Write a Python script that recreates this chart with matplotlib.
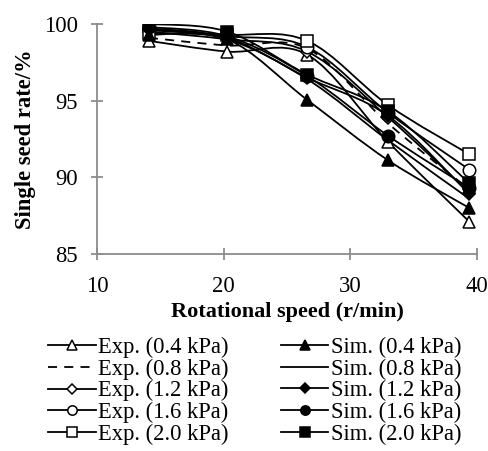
import matplotlib
matplotlib.use("Agg")
import matplotlib.pyplot as plt
from matplotlib.path import Path
from matplotlib.patches import PathPatch
from matplotlib.lines import Line2D
import numpy as np

plt.rcParams['font.family'] = ['Liberation Serif', 'DejaVu Serif']

speed = [14.1, 20.3, 26.6, 33.0, 39.4]
exp_04 = [98.9, 98.2, 98.0, 92.3, 87.1]
exp_08 = [99.1, 98.6, 98.4, 93.5, 89.2]
exp_12 = [99.5, 99.0, 98.2, 93.9, 89.0]
exp_16 = [99.7, 99.2, 98.5, 94.2, 90.5]
exp_20 = [99.4, 99.3, 98.9, 94.7, 91.5]
sim_04 = [99.3, 99.0, 95.05, 91.1, 88.0]
sim_08 = [99.6, 99.0, 96.4, 92.4, 88.6]
sim_12 = [99.7, 99.1, 96.5, 94.0, 88.9]
sim_16 = [99.8, 99.2, 96.6, 92.7, 89.3]
sim_20 = [100.0, 99.5, 96.7, 94.3, 89.6]

labels = ['Exp. (0.4 kPa)', 'Exp. (0.8 kPa)', 'Exp. (1.2 kPa)', 'Exp. (1.6 kPa)', 'Exp. (2.0 kPa)',
          'Sim. (0.4 kPa)', 'Sim. (0.8 kPa)', 'Sim. (1.2 kPa)', 'Sim. (1.6 kPa)', 'Sim. (2.0 kPa)']
series = [exp_04, exp_08, exp_12, exp_16, exp_20, sim_04, sim_08, sim_12, sim_16, sim_20]
markers = ['^', None, 'D', 'o', 's', '^', None, 'D', 'o', 's']
filled = [False] * 5 + [True] * 5
lstyles = ['-', (0, (5, 4)), '-', '-', '-', '-', '-', '-', '-', '-']
msizes = {'^': 9, 'D': 6.5, 'o': 9, 's': 9}

fig = plt.figure(figsize=(4.88, 4.51), dpi=100)
ax = fig.add_axes([97/488, 1 - 254/451, 380/488, 230/451])


def smooth_path(xs, ys):
    pts = np.column_stack([xs, ys])
    verts = [pts[0]]
    codes = [Path.MOVETO]
    n = len(pts)
    for i in range(n - 1):
        p0 = pts[i - 1] if i > 0 else pts[i]
        p1 = pts[i]
        p2 = pts[i + 1]
        p3 = pts[i + 2] if i + 2 < n else pts[i + 1]
        c1 = p1 + (p2 - p0) / 6.0
        c2 = p2 - (p3 - p1) / 6.0
        verts += [c1, c2, p2]
        codes += [Path.CURVE4] * 3
    return Path(verts, codes)


handles = []
for ys, m, f, ls, lab in zip(series, markers, filled, lstyles, labels):
    patch = PathPatch(smooth_path(speed, ys), fill=False, edgecolor='black',
                      linewidth=1.3, linestyle=ls, transform=ax.transData, zorder=2)
    ax.add_patch(patch)
    if m is not None:
        ax.plot(speed, ys, linestyle='none', marker=m, markersize=msizes[m],
                markerfacecolor='black' if f else 'white', markeredgecolor='black',
                markeredgewidth=1.1, zorder=3)
    handles.append(Line2D([], [], color='black', linewidth=1.3, linestyle=ls,
                          marker=m if m else None,
                          markersize=msizes[m] * 0.75 if m else 0,
                          markerfacecolor='black' if f else 'white',
                          markeredgecolor='black', markeredgewidth=1.1))

ax.set_xlim(10, 40)
ax.set_ylim(85, 100)
ax.set_xticks([10, 20, 30, 40])
ax.set_yticks([85, 90, 95, 100])
for s in ['top', 'right']:
    ax.spines[s].set_visible(False)
for s in ['left', 'bottom']:
    ax.spines[s].set_color('#8c8c8c')
    ax.spines[s].set_linewidth(1.3)
ax.tick_params(direction='inout', length=9, width=1.3, color='#8c8c8c', labelsize=16.3)
ax.tick_params(axis='y', pad=9)
ax.tick_params(axis='x', pad=11)
ax.set_xlabel('Rotational speed (r/min)', fontsize=16, fontweight='bold', labelpad=4)
ax.set_ylabel('Single seed rate/%', fontsize=16.3, fontweight='bold', labelpad=6)

fig.legend(handles, labels, ncol=2, loc='upper left', bbox_to_anchor=(48/488, 1 - 337/451),
           frameon=False, fontsize=16.3, handlelength=2.1, handletextpad=0.12,
           columnspacing=2.3, labelspacing=0.02, borderpad=0, borderaxespad=0)

fig.savefig('out.png', dpi=100)
